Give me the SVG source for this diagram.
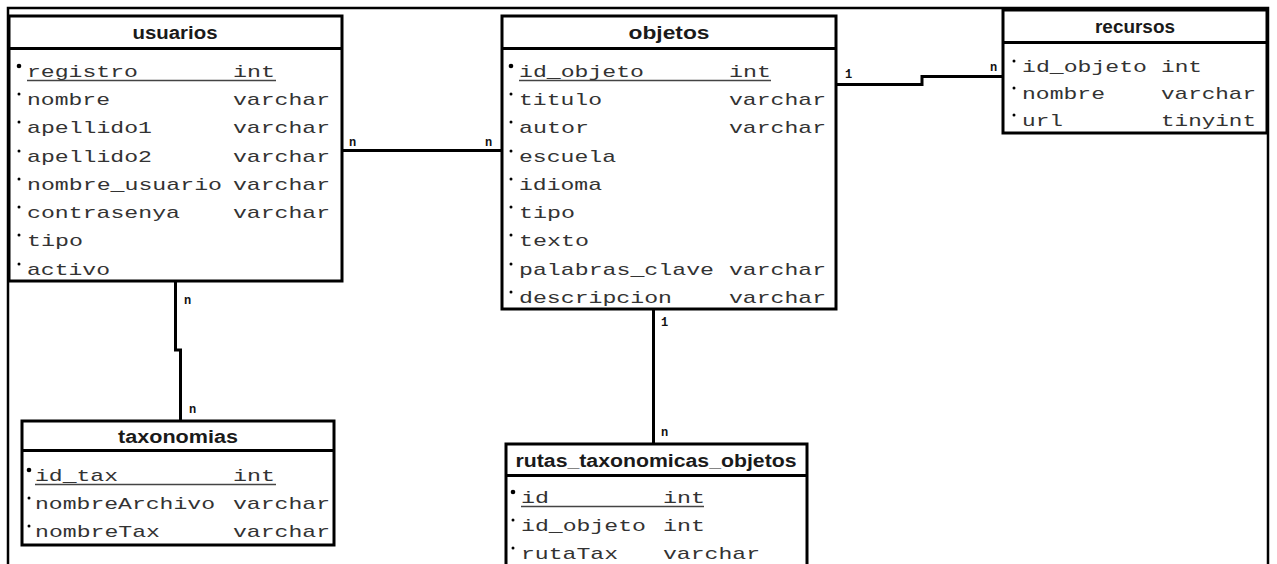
<svg xmlns="http://www.w3.org/2000/svg" width="1277" height="564" viewBox="0 0 1277 564">
<style>
.box{fill:#fff;stroke:#000;stroke-width:3}
.sep{stroke:#000;stroke-width:3}
.frame{fill:none;stroke:#000;stroke-width:2.5}
.title{font-family:"Liberation Sans",Arial,sans-serif;font-weight:bold;font-size:18px;fill:#1a1a1a;text-anchor:middle}
.f{font-family:"Liberation Mono","Courier New",monospace;font-size:17px;fill:#333}
.ul{stroke:#444;stroke-width:1.3}
.lbl{font-family:"Liberation Mono","Courier New",monospace;font-size:12px;font-weight:bold;fill:#111}
.conn{fill:none;stroke:#000;stroke-width:3}
</style>
<rect width="1277" height="564" fill="#fff"/>
<path class="frame" d="M8,600 V8 H1268 V600"/>

<g id="connectors">
<path class="conn" d="M342,150.5 H502"/>
<text class="lbl" x="349" y="146">n</text>
<text class="lbl" x="485" y="146">n</text>
<path class="conn" d="M836,84.5 H922 V76.5 H1003"/>
<text class="lbl" x="845" y="78">1</text>
<text class="lbl" x="990" y="71">n</text>
<path class="conn" d="M175.5,281 V350 H180.5 V420"/>
<text class="lbl" x="184" y="304">n</text>
<text class="lbl" x="189" y="413">n</text>
<path class="conn" d="M653.5,309 V443"/>
<text class="lbl" x="661" y="326">1</text>
<text class="lbl" x="661" y="436">n</text>
</g>

<g id="usuarios">
<rect class="box" x="9" y="16" width="333" height="265"/>
<line class="sep" x1="9" y1="48.5" x2="342" y2="48.5"/>
<text class="title" x="175" y="39" textLength="85" lengthAdjust="spacingAndGlyphs">usuarios</text>
<circle cx="19" cy="66" r="2.3"/>
<circle cx="19" cy="94" r="1.5"/><circle cx="19" cy="122" r="1.5"/><circle cx="19" cy="151" r="1.5"/><circle cx="19" cy="179" r="1.5"/><circle cx="19" cy="207" r="1.5"/><circle cx="19" cy="235" r="1.5"/><circle cx="19" cy="264" r="1.5"/>
<text class="f" x="27" y="77" textLength="111" lengthAdjust="spacingAndGlyphs">registro</text>
<text class="f" x="233" y="77" textLength="42" lengthAdjust="spacingAndGlyphs">int</text>
<line class="ul" x1="27" y1="80.5" x2="276" y2="80.5"/>
<text class="f" x="27" y="105" textLength="83" lengthAdjust="spacingAndGlyphs">nombre</text>
<text class="f" x="233" y="105" textLength="97" lengthAdjust="spacingAndGlyphs">varchar</text>
<text class="f" x="27" y="133" textLength="125" lengthAdjust="spacingAndGlyphs">apellido1</text>
<text class="f" x="233" y="133" textLength="97" lengthAdjust="spacingAndGlyphs">varchar</text>
<text class="f" x="27" y="162" textLength="125" lengthAdjust="spacingAndGlyphs">apellido2</text>
<text class="f" x="233" y="162" textLength="97" lengthAdjust="spacingAndGlyphs">varchar</text>
<text class="f" x="27" y="190" textLength="195" lengthAdjust="spacingAndGlyphs">nombre_usuario</text>
<text class="f" x="233" y="190" textLength="97" lengthAdjust="spacingAndGlyphs">varchar</text>
<text class="f" x="27" y="218" textLength="153" lengthAdjust="spacingAndGlyphs">contrasenya</text>
<text class="f" x="233" y="218" textLength="97" lengthAdjust="spacingAndGlyphs">varchar</text>
<text class="f" x="27" y="246" textLength="56" lengthAdjust="spacingAndGlyphs">tipo</text>
<text class="f" x="27" y="275" textLength="83" lengthAdjust="spacingAndGlyphs">activo</text>
</g>

<g id="objetos">
<rect class="box" x="502" y="16" width="334" height="293"/>
<line class="sep" x1="502" y1="48.5" x2="836" y2="48.5"/>
<text class="title" x="669" y="39" textLength="81" lengthAdjust="spacingAndGlyphs">objetos</text>
<circle cx="511" cy="66" r="2.3"/>
<circle cx="511" cy="94" r="1.5"/><circle cx="511" cy="122" r="1.5"/><circle cx="511" cy="151" r="1.5"/><circle cx="511" cy="179" r="1.5"/><circle cx="511" cy="207" r="1.5"/><circle cx="511" cy="235" r="1.5"/><circle cx="511" cy="264" r="1.5"/><circle cx="511" cy="292" r="1.5"/>
<text class="f" x="519" y="77" textLength="125" lengthAdjust="spacingAndGlyphs">id_objeto</text>
<text class="f" x="729" y="77" textLength="42" lengthAdjust="spacingAndGlyphs">int</text>
<line class="ul" x1="519" y1="80.5" x2="771" y2="80.5"/>
<text class="f" x="519" y="105" textLength="83" lengthAdjust="spacingAndGlyphs">titulo</text>
<text class="f" x="729" y="105" textLength="97" lengthAdjust="spacingAndGlyphs">varchar</text>
<text class="f" x="519" y="133" textLength="70" lengthAdjust="spacingAndGlyphs">autor</text>
<text class="f" x="729" y="133" textLength="97" lengthAdjust="spacingAndGlyphs">varchar</text>
<text class="f" x="519" y="162" textLength="97" lengthAdjust="spacingAndGlyphs">escuela</text>
<text class="f" x="519" y="190" textLength="83" lengthAdjust="spacingAndGlyphs">idioma</text>
<text class="f" x="519" y="218" textLength="56" lengthAdjust="spacingAndGlyphs">tipo</text>
<text class="f" x="519" y="246" textLength="70" lengthAdjust="spacingAndGlyphs">texto</text>
<text class="f" x="519" y="275" textLength="195" lengthAdjust="spacingAndGlyphs">palabras_clave</text>
<text class="f" x="729" y="275" textLength="97" lengthAdjust="spacingAndGlyphs">varchar</text>
<text class="f" x="519" y="303" textLength="153" lengthAdjust="spacingAndGlyphs">descripcion</text>
<text class="f" x="729" y="303" textLength="97" lengthAdjust="spacingAndGlyphs">varchar</text>
</g>

<g id="recursos">
<rect class="box" x="1003" y="10" width="264" height="123"/>
<line class="sep" x1="1003" y1="42.5" x2="1267" y2="42.5"/>
<text class="title" x="1135" y="33" textLength="80" lengthAdjust="spacingAndGlyphs">recursos</text>
<circle cx="1014" cy="61" r="1.5"/><circle cx="1014" cy="88" r="1.5"/><circle cx="1014" cy="115" r="1.5"/>
<text class="f" x="1022" y="72" textLength="125" lengthAdjust="spacingAndGlyphs">id_objeto</text>
<text class="f" x="1161" y="72" textLength="41" lengthAdjust="spacingAndGlyphs">int</text>
<text class="f" x="1022" y="99" textLength="83" lengthAdjust="spacingAndGlyphs">nombre</text>
<text class="f" x="1161" y="99" textLength="95" lengthAdjust="spacingAndGlyphs">varchar</text>
<text class="f" x="1022" y="126" textLength="41" lengthAdjust="spacingAndGlyphs">url</text>
<text class="f" x="1161" y="126" textLength="95" lengthAdjust="spacingAndGlyphs">tinyint</text>
</g>

<g id="taxonomias">
<rect class="box" x="22" y="421" width="312" height="124"/>
<line class="sep" x1="22" y1="450.5" x2="334" y2="450.5"/>
<text class="title" x="178" y="443" textLength="120" lengthAdjust="spacingAndGlyphs">taxonomias</text>
<circle cx="29" cy="470" r="2.3"/><circle cx="29" cy="498" r="1.5"/><circle cx="29" cy="526" r="1.5"/>
<text class="f" x="35" y="481" textLength="83" lengthAdjust="spacingAndGlyphs">id_tax</text>
<text class="f" x="233" y="481" textLength="42" lengthAdjust="spacingAndGlyphs">int</text>
<line class="ul" x1="35" y1="484.5" x2="276" y2="484.5"/>
<text class="f" x="35" y="509" textLength="180" lengthAdjust="spacingAndGlyphs">nombreArchivo</text>
<text class="f" x="233" y="509" textLength="97" lengthAdjust="spacingAndGlyphs">varchar</text>
<text class="f" x="35" y="537" textLength="125" lengthAdjust="spacingAndGlyphs">nombreTax</text>
<text class="f" x="233" y="537" textLength="97" lengthAdjust="spacingAndGlyphs">varchar</text>
</g>

<g id="rutas_taxonomicas_objetos">
<rect class="box" x="506" y="444" width="301" height="160"/>
<line class="sep" x1="506" y1="475.5" x2="807" y2="475.5"/>
<text class="title" x="656" y="467" textLength="281" lengthAdjust="spacingAndGlyphs">rutas_taxonomicas_objetos</text>
<circle cx="513" cy="492" r="2.3"/><circle cx="513" cy="520" r="1.5"/><circle cx="513" cy="548" r="1.5"/>
<text class="f" x="521" y="503" textLength="28" lengthAdjust="spacingAndGlyphs">id</text>
<text class="f" x="663" y="503" textLength="42" lengthAdjust="spacingAndGlyphs">int</text>
<line class="ul" x1="521" y1="506.5" x2="704" y2="506.5"/>
<text class="f" x="521" y="531" textLength="125" lengthAdjust="spacingAndGlyphs">id_objeto</text>
<text class="f" x="663" y="531" textLength="42" lengthAdjust="spacingAndGlyphs">int</text>
<text class="f" x="521" y="559" textLength="97" lengthAdjust="spacingAndGlyphs">rutaTax</text>
<text class="f" x="663" y="559" textLength="97" lengthAdjust="spacingAndGlyphs">varchar</text>
</g>
</svg>
